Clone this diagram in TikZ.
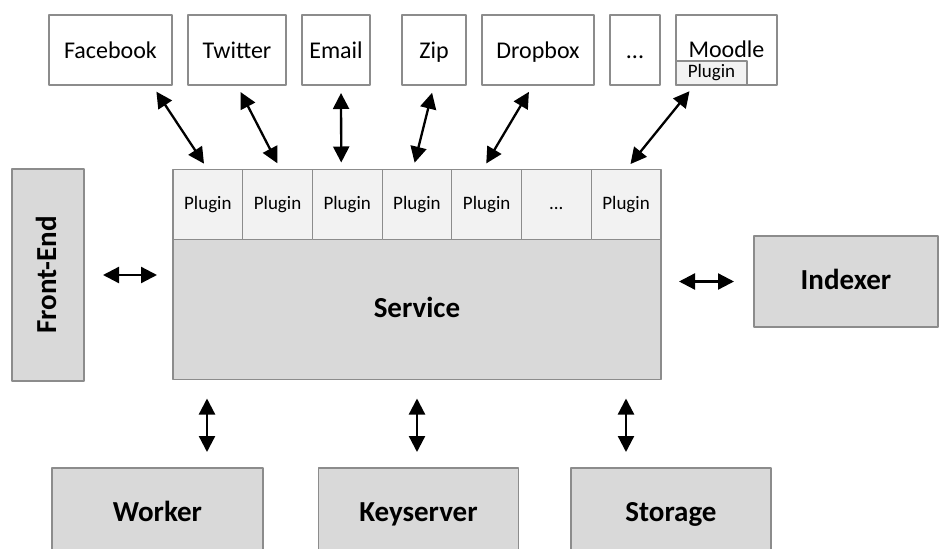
\documentclass[tikz,border=0pt]{standalone}
\usepackage{fontspec}
\setmainfont{Carlito}
\usetikzlibrary{arrows.meta}
\definecolor{boxgray}{HTML}{D9D9D9}
\definecolor{plugingray}{HTML}{F2F2F2}
\definecolor{edgegray}{HTML}{8C8C8C}
\newcommand{\moredots}{...}

\begin{document}
\begin{tikzpicture}[line cap=round,line join=round,>={Triangle[length=16pt,width=16pt]},x=1pt,y=-1pt,
  box/.style={draw=edgegray,line width=1.2pt,inner sep=0pt,outer sep=0pt},
  ext/.style={box,fill=white,minimum height=70pt,text height=17pt,text depth=1pt,font=\fontsize{24}{28}\selectfont},
  plug/.style={box,fill=plugingray,minimum width=69.7pt,minimum height=70pt,text height=11pt,text depth=2pt,font=\fontsize{19}{22}\selectfont},
  comp/.style={box,fill=boxgray,text height=18pt,text depth=2pt,font=\bfseries\fontsize{29}{34}\selectfont},
  link/.style={<->,line width=2.3pt}]
\useasboundingbox (0,0) rectangle (940,549);
\clip (0,0) rectangle (940,549);

% external services
\node[ext,minimum width=123pt] (fb) at (110.5,50) {Facebook};
\node[ext,minimum width=98pt] (tw) at (237,50) {Twitter};
\node[ext,minimum width=68pt] (em) at (336,50) {Email};
\node[ext,minimum width=64pt] (zp) at (434,50) {Zip};
\node[ext,minimum width=112pt] (db) at (538,50) {Dropbox};
\node[ext,minimum width=50pt] (dt) at (635,50) {\moredots};
\node[ext,minimum width=101pt,text depth=3pt] (mo) at (726.5,50) {Moodle};
\node[plug,minimum width=71pt,minimum height=24pt] (mp) at (711.5,73) {Plugin};

% service with its plugins
\node[comp,minimum width=488pt,minimum height=140pt] (sv) at (417,309.5) {Service};
\foreach \i/\t in {1/Plugin,2/Plugin,3/Plugin,4/Plugin,5/Plugin,6/\moredots,7/Plugin}
  \node[plug] (p\i) at ({173+69.7*(\i-0.5)},204.5) {\t};

% other components
\node[comp,minimum width=212pt,minimum height=72pt,rotate=90] (fe) at (48,275) {Front-End};
\node[comp,minimum width=184pt,minimum height=91pt] (ix) at (846,281.5) {Indexer};
\node[comp,minimum width=211pt,minimum height=90pt] (wk) at (157.5,513) {Worker};
\node[comp,minimum width=200pt,minimum height=90pt] (ks) at (418.5,513) {Keyserver};
\node[comp,minimum width=200pt,minimum height=90pt] (st) at (671,513) {Storage};

% arrows to the plugins
\draw[link,shorten <=8pt,shorten >=7pt] ([xshift=-20pt]fb.south east) -- (p1.north);
\draw[link,shorten <=8pt,shorten >=7pt] (tw.south) -- ([xshift=3pt]p2.north);
\draw[link,shorten <=8pt,shorten >=7pt] ([xshift=5pt]em.south) -- ([xshift=-6pt]p3.north);
\draw[link,shorten <=8pt,shorten >=7pt] (zp.south) -- ([xshift=-4pt]p4.north);
\draw[link,shorten <=8pt,shorten >=7pt] ([xshift=-5pt]db.south) -- ([xshift=-4pt]p5.north);
\draw[link,shorten <=8pt,shorten >=7pt] ([xshift=-17pt]mp.south) -- (p7.north);

% arrows around the service
\draw[link,shorten <=19pt,shorten >=16pt] (fe.south) -- (fe.south -| sv.west);
\draw[link,shorten <=18pt,shorten >=20pt] (sv.east |- ix.west) -- (ix.west);
\draw[link,shorten <=19pt,shorten >=16pt] ([xshift=-210pt]sv.south) -- ([xshift=-210pt]sv.south |- wk.north);
\draw[link,shorten <=19pt,shorten >=16pt] (sv.south) -- (sv.south |- ks.north);
\draw[link,shorten <=19pt,shorten >=16pt] ([xshift=209pt]sv.south) -- ([xshift=209pt]sv.south |- st.north);
\end{tikzpicture}
\end{document}
